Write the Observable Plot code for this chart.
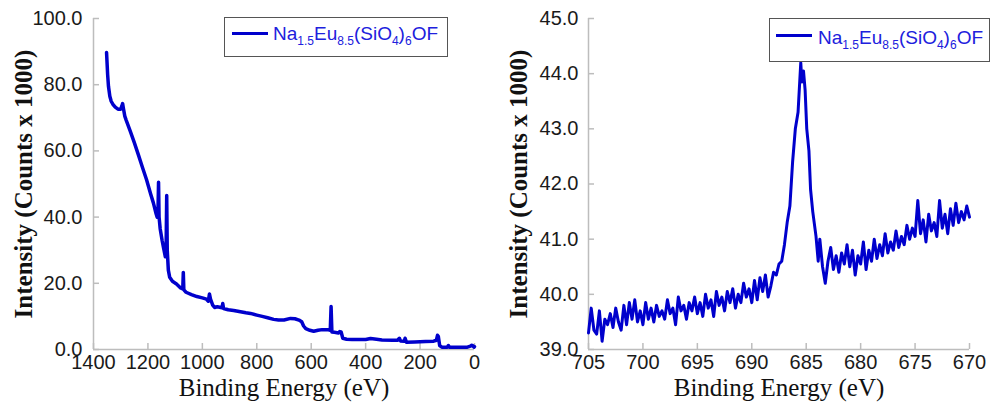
<!DOCTYPE html>
<html><head><meta charset="utf-8">
<script src="https://cdn.jsdelivr.net/npm/d3@7"></script>
<script src="https://cdn.jsdelivr.net/npm/@observablehq/plot@0.6"></script>
<style>
body{margin:0;background:#fff;}
#wrap{position:relative;width:992px;height:408px;overflow:hidden;background:#fff;}
.panel{position:absolute;top:0;width:496px;height:408px;}
.legend{position:absolute;box-sizing:border-box;border:1.5px solid #555;background:#fff;}
.swatch{position:absolute;height:3px;background:#0000cc;}
.ltxt{position:absolute;white-space:nowrap;font-family:"Liberation Sans",Arial,sans-serif;font-size:19px;line-height:19px;color:#2020dd;}
.ltxt .s{font-size:12px;position:relative;top:5px;}
</style></head><body><div id="wrap"></div>
<script>
// ---- data ----
const seriesParts = [["Na",0],["1.5",1],["Eu",0],["8.5",1],["(SiO",0],["4",1],[")",0],["6",1],["OF",0]];
const xTitle = "Binding Energy (eV)";
const yTitle = "Intensity (Counts x 1000)";

// Survey spectrum (left)
const surveyEnergy = [1352,1348,1345,1340,1335,1328,1320,1310,1300,1296,1293,1290,1285,1280,1265,1250,1235,1220,1205,1190,1180,1170,1166,1163,1161,1159,1155,1148,1142,1136,1133,1131,1129,1125,1120,1110,1095,1080,1072,1070,1068,1060,1040,1020,1000,985,978,974,970,962,955,945,928,925,922,905,885,860,840,823,800,780,760,738,720,700,676,660,645,635,628,620,605,591,575,560,540,530,527,524,515,500,495,490,484,470,450,420,400,382,360,340,300,283,276,272,258,255,250,220,180,150,140,136,133,128,120,100,96,92,60,26,15,10,6,2,0];
const surveyIntensity = [89.7,83.0,79.5,76.5,75.0,74.0,73.2,72.6,72.6,73.5,74.3,72.8,70.5,69.3,66.0,62.5,58.8,55.0,51.3,47.0,44.3,41.0,40.0,42.0,50.5,40.0,36.5,33.0,30.5,28.0,32.0,46.5,30.0,24.0,21.8,20.6,19.8,18.6,18.3,23.3,18.0,17.3,16.6,16.0,15.6,15.2,14.6,16.8,15.2,13.4,12.7,12.9,12.6,13.9,12.4,12.0,11.8,11.4,11.1,10.9,10.4,10.0,9.6,9.1,8.9,8.9,9.4,9.3,8.9,8.4,7.1,6.3,5.8,5.5,5.8,6.0,6.0,5.8,13.0,5.3,5.2,5.0,5.4,5.3,3.4,3.1,3.0,3.0,3.0,3.3,3.1,2.9,2.8,2.8,3.4,2.6,2.5,3.4,2.2,2.3,2.4,2.5,2.8,4.3,4.0,1.2,0.7,0.7,1.2,0.7,0.7,0.7,1.0,1.3,1.1,0.7,0.9];
const surveyXTicks = [1400,1200,1000,800,600,400,200,0];
const surveyYTicks = [0,20,40,60,80,100];

// F 1s region (right)
const fEnergy = [705.00,704.75,704.50,704.25,704.00,703.75,703.50,703.25,703.00,702.75,702.50,702.25,702.00,701.75,701.50,701.25,701.00,700.75,700.50,700.25,700.00,
699.75,699.50,699.25,699.00,698.75,698.50,698.25,698.00,697.75,697.50,697.25,697.00,696.75,696.50,696.25,696.00,695.75,695.50,695.25,695.00,
694.75,694.50,694.25,694.00,693.75,693.50,693.25,693.00,692.75,692.50,692.25,692.00,691.75,691.50,691.25,691.00,690.75,690.50,690.25,690.00,
689.75,689.50,689.25,689.00,688.75,688.50,688.25,688.00,687.75,687.50,687.25,687.00,686.75,686.50,686.25,686.00,685.75,685.50,685.40,685.25,685.10,684.95,684.75,684.60,684.40,684.10,683.90,683.75,683.50,683.25,683.00,
682.75,682.50,682.25,682.00,681.75,681.50,681.25,681.00,680.75,680.50,680.25,680.00,679.75,679.50,679.25,679.00,678.75,678.50,678.25,678.00,677.75,677.50,677.25,677.00,676.75,676.50,676.25,676.00,675.75,675.50,675.25,675.00,674.75,674.50,674.25,674.00,673.75,673.50,673.25,673.00,672.75,672.50,672.25,672.00,671.75,671.50,671.25,671.00,670.75,670.50,670.25,670.00];
const fIntensity = [39.30,39.75,39.35,39.28,39.70,39.15,39.55,39.45,39.65,39.40,39.75,39.50,39.35,39.80,39.45,39.85,39.55,39.90,39.50,39.70,39.45,
39.85,39.55,39.75,39.50,39.80,39.60,39.70,39.55,39.90,39.65,39.75,39.45,39.95,39.70,39.80,39.55,39.85,39.70,39.95,39.65,
39.85,39.60,40.00,39.75,39.90,39.60,40.05,39.80,39.95,39.70,40.05,39.85,40.10,39.75,40.00,39.85,40.20,39.95,40.10,39.85,
40.25,39.90,40.30,40.05,40.35,39.95,40.15,40.40,40.35,40.55,40.60,40.90,41.30,41.60,42.40,43.00,43.30,44.20,43.85,44.05,43.70,43.00,42.60,41.90,41.50,41.05,40.60,41.00,40.50,40.20,40.60,
40.85,40.45,40.70,40.40,40.75,40.55,40.90,40.50,40.80,40.35,40.70,40.55,40.95,40.45,40.80,40.60,41.00,40.65,40.90,40.70,41.10,40.75,40.95,40.80,41.15,40.85,41.05,40.90,41.25,41.00,41.20,41.05,41.70,41.10,41.35,40.95,41.45,41.15,41.30,41.05,41.70,41.20,41.45,41.10,41.55,41.25,41.65,41.30,41.50,41.35,41.60,41.40];
const fXTicks = [705,700,695,690,685,680,675,670];
const fYTicks = [39,40,41,42,43,44,45];

// ---- drawing ----
const AXIS = "#bdbdbd", BLUE = "#0000cc";
const SANS = "Liberation Sans, Arial, sans-serif", SERIF = "Liberation Serif, Times New Roman, serif";

function panel({energy, intensity, xDomain, yDomain, xTicks, yTicks, ml, mr, ydx, lw}) {
  const W = 496, H = 408, mt = 18, mb = 59;
  const fw = W - ml - mr, fh = H - mt - mb;
  const data = energy.map((e, i) => ({e, v: intensity[i]}));
  const f1 = d3.format(".1f");
  return Plot.plot({
    width: W, height: H, marginLeft: ml, marginRight: mr, marginTop: mt, marginBottom: mb,
    x: {domain: xDomain, axis: null},
    y: {domain: yDomain, axis: null},
    style: {fontFamily: SANS, fontSize: "20px", background: "white", overflow: "visible"},
    marks: [
      Plot.ruleY([yDomain[0]], {stroke: AXIS, strokeWidth: 1.5}),
      Plot.ruleX([xDomain[0]], {stroke: AXIS, strokeWidth: 1.5}),
      Plot.tickX(xTicks, {x: d => d, insetTop: fh - 6, stroke: AXIS, strokeWidth: 1.5}),
      Plot.tickY(yTicks, {y: d => d, insetRight: fw - 6, stroke: AXIS, strokeWidth: 1.5}),
      Plot.text(xTicks, {x: d => d, frameAnchor: "bottom", lineAnchor: "top", dy: 5, text: d => String(d), fill: "#1a1a1a", fontSize: 20, fontFamily: SANS}),
      Plot.text(yTicks, {y: d => d, frameAnchor: "left", textAnchor: "end", lineAnchor: "middle", dx: ydx, text: d => f1(d), fill: "#1a1a1a", fontSize: 20, fontFamily: SANS}),
      Plot.line(data, {x: "e", y: "v", stroke: BLUE, strokeWidth: lw, strokeLinejoin: "round", strokeLinecap: "round"}),
      Plot.text([xTitle], {frameAnchor: "bottom", textAnchor: "middle", lineAnchor: "middle", dy: 38, text: d => d, fontFamily: SERIF, fontSize: 25, fill: "#111"}),
      Plot.text([yTitle], {frameAnchor: "left", textAnchor: "middle", lineAnchor: "middle", dx: -70, rotate: -90, text: d => d, fontFamily: SERIF, fontWeight: "bold", fontSize: 25, fill: "#111"})
    ]
  });
}

function legend(box, sw, txt) {
  const d = document.createElement("div");
  d.className = "legend";
  Object.assign(d.style, {left: box[0] + "px", top: box[1] + "px", width: box[2] + "px", height: box[3] + "px"});
  const s = document.createElement("div");
  s.className = "swatch";
  Object.assign(s.style, {left: sw[0] + "px", top: sw[1] + "px", width: sw[2] + "px"});
  const t = document.createElement("div");
  t.className = "ltxt";
  Object.assign(t.style, {left: txt[0] + "px", top: txt[1] + "px"});
  t.innerHTML = seriesParts.map(([p, sub]) => sub ? `<span class="s">${p}</span>` : p).join("");
  d.append(s, t);
  return d;
}

const wrap = document.getElementById("wrap");
const left = panel({energy: surveyEnergy, intensity: surveyIntensity, xDomain: [1400, 0], yDomain: [0, 100],
  xTicks: surveyXTicks, yTicks: surveyYTicks, ml: 93, mr: 22, ydx: -11, lw: 3.5});
const right = panel({energy: fEnergy, intensity: fIntensity, xDomain: [705, 670], yDomain: [39, 45],
  xTicks: fXTicks, yTicks: fYTicks, ml: 92, mr: 23, ydx: -10, lw: 3});
const pl = document.createElement("div"); pl.className = "panel"; pl.style.left = "0px"; pl.append(left);
const pr = document.createElement("div"); pr.className = "panel"; pr.style.left = "496px"; pr.append(right);
wrap.append(pl, pr);
wrap.append(legend([224, 17, 224, 40], [7, 14, 36], [48, 6]));
wrap.append(legend([769, 18, 221, 44], [6, 15, 36], [48, 9]));
</script></body></html>
